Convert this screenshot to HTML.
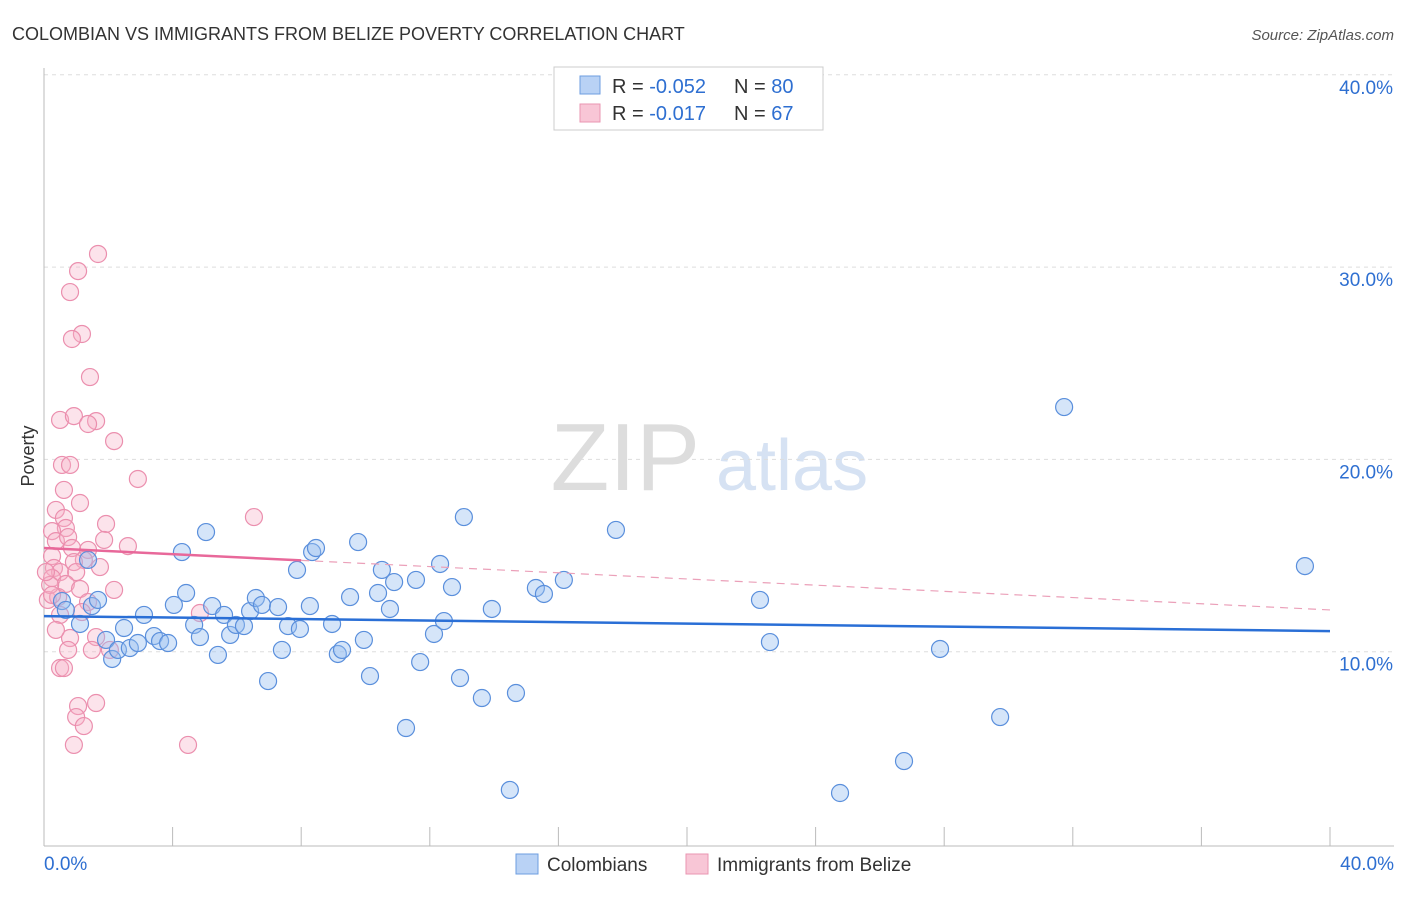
<!DOCTYPE html>
<html><head><meta charset="utf-8"><style>
body{margin:0;background:#fff;font-family:"Liberation Sans",sans-serif}
svg text{font-family:"Liberation Sans",sans-serif}
</style></head><body>
<svg id="chart" width="1406" height="892" viewBox="0 0 1406 892">
<text x="12" y="40" font-size="18" fill="#333">COLOMBIAN VS IMMIGRANTS FROM BELIZE POVERTY CORRELATION CHART</text>
<text x="1394" y="40" font-size="15" fill="#555" text-anchor="end" font-style="italic">Source: ZipAtlas.com</text>
<text x="700" y="490" font-size="96" fill="#ddd" text-anchor="end" font-family="Liberation Serif">ZIP</text>
<text x="716" y="490" font-size="72" fill="#d6e2f3">atlas</text>
<g id="grid"></g>
<g id="axes"></g>
<g id="pts"></g>
<g id="trend"></g>
<g>
<rect x="554" y="67" width="269" height="63" fill="#fff" stroke="#ccc"/>
<rect x="580" y="76" width="20" height="18" fill="#b9d2f5" stroke="#6d9ee0"/>
<rect x="580" y="104" width="20" height="18" fill="#f8c6d6" stroke="#ea95b1"/>
<text x="612" y="93" font-size="20" fill="#333">R = <tspan fill="#2e6fd1">-0.052</tspan></text>
<text x="734" y="93" font-size="20" fill="#333">N = <tspan fill="#2e6fd1">80</tspan></text>
<text x="612" y="120" font-size="20" fill="#333">R =  <tspan fill="#2e6fd1">-0.017</tspan></text>
<text x="734" y="120" font-size="20" fill="#333">N =  <tspan fill="#2e6fd1">67</tspan></text>
</g>
<text x="34" y="456" font-size="18" fill="#333" text-anchor="middle" transform="rotate(-90 34 456)">Poverty</text>
<text x="44" y="870" font-size="19" fill="#2e6fd1">0.0%</text>
<text x="1394" y="870" font-size="19" fill="#2e6fd1" text-anchor="end">40.0%</text>
<g>
<rect x="516" y="854" width="22" height="20" fill="#b9d2f5" stroke="#6d9ee0"/>
<text x="547" y="871" font-size="19" fill="#333">Colombians</text>
<rect x="686" y="854" width="22" height="20" fill="#f8c6d6" stroke="#ea95b1"/>
<text x="717" y="871" font-size="19" fill="#333">Immigrants from Belize</text>
</g>
</svg>
<script>
const yTicks=[10,20,30,40];
const yTickLabels=["10.0%","20.0%","30.0%","40.0%"];
const blueX=[0.56,0.68,1.12,1.37,1.49,1.68,1.93,2.12,2.30,2.49,2.67,2.92,3.11,3.42,3.61,3.86,4.04,4.29,4.42,4.67,4.85,5.04,5.23,5.41,5.60,5.79,5.97,6.22,6.41,6.59,6.78,6.97,7.28,7.40,7.59,7.87,7.96,8.27,8.34,8.46,8.96,9.14,9.27,9.52,9.77,9.95,10.14,10.39,10.51,10.76,10.89,11.26,11.57,11.70,12.13,12.32,12.44,12.69,12.94,13.06,13.62,13.93,14.49,14.68,15.30,15.55,16.17,17.79,22.27,22.58,24.76,26.75,27.87,29.74,31.73,39.22];
const blueY=[12.84,12.38,11.65,14.98,12.58,12.90,10.82,9.83,10.30,11.44,10.40,10.66,12.12,11.02,10.76,10.66,12.64,15.39,13.26,11.60,10.97,16.43,12.58,10.04,12.12,11.08,11.60,11.54,12.32,13.00,12.64,8.68,12.53,10.30,11.54,14.46,11.39,12.58,15.39,15.60,11.65,10.09,10.30,13.05,15.91,10.82,8.94,13.26,14.46,12.43,13.83,6.24,13.94,9.67,11.13,14.77,11.80,13.57,8.84,17.21,7.80,12.43,3.02,8.06,13.52,13.21,13.94,16.54,12.90,10.71,2.86,4.52,10.35,6.81,22.93,14.66];
const pinkX=[1.68,1.06,0.81,1.18,0.87,1.43,0.50,0.93,1.62,1.37,2.18,0.56,0.81,2.92,0.62,1.12,6.53,0.37,0.62,0.68,1.93,0.25,0.37,0.75,1.87,2.61,0.87,1.37,0.25,1.24,0.93,1.74,0.31,0.50,0.25,1.00,2.18,0.68,1.12,0.12,0.44,1.37,4.85,0.50,1.18,1.62,0.81,2.05,1.49,0.75,0.50,0.62,1.06,1.62,1.00,1.24,0.93,4.48,0.19,0.06,0.37,0.25];
const pinkY=[30.89,30.00,28.91,26.73,26.47,24.49,22.26,22.46,22.20,22.05,21.16,19.92,19.92,19.19,18.62,17.94,17.21,17.58,17.16,16.64,16.85,16.48,15.96,16.17,16.02,15.70,15.60,15.50,15.18,14.98,14.87,14.61,14.56,14.35,14.04,14.35,13.42,13.73,13.47,12.90,13.05,12.79,12.22,12.12,12.27,10.97,10.92,10.30,10.30,10.30,9.36,9.36,7.38,7.54,6.81,6.34,5.36,5.36,13.68,14.35,11.34,13.16];
const blueTrend=[12.06,11.28];
const pinkTrend=[15.60,12.38];
const pinkSolidEnd=8;
const xMaxVal=40;

const X=v=>44+v*32.15, Y=v=>848-v*19.23;
const NS="http://www.w3.org/2000/svg";
function mk(tag,attrs,parent){const e=document.createElementNS(NS,tag);for(const k in attrs)e.setAttribute(k,attrs[k]);parent.appendChild(e);return e;}
const grid=document.getElementById('grid'),axes=document.getElementById('axes'),pts=document.getElementById('pts'),tr=document.getElementById('trend');
yTicks.forEach((t,i)=>{
 const l=mk('line',{x1:44,x2:1394,y1:Y(t)-4,y2:Y(t)-4,stroke:'#ddd','stroke-dasharray':'4,4'},grid);
 
 
 const tx=mk('text',{x:1393,y:Y(t)+15,'font-size':19,fill:'#2e6fd1','text-anchor':'end'},grid);
 tx.textContent=yTickLabels[i];
 
 
});
const ya=mk('line',{x1:44,x2:44,y1:68,y2:846,stroke:'#bbb'},axes);


const xa=mk('line',{x1:44,x2:1394,y1:846,y2:846,stroke:'#bbb'},axes);


for(let i=1;i<=10;i++){
 const tk=mk('line',{x1:X(i*4),x2:X(i*4),y1:827,y2:846,stroke:'#bbb'},axes);
 
 
}
pinkX.forEach((x,i)=>{
 const c=mk('circle',{cx:X(x),cy:Y(pinkY[i]),r:8.5,fill:'rgba(246,175,198,0.35)',stroke:'#eb8fae','stroke-width':1.2},pts);
 
 
});
blueX.forEach((x,i)=>{
 const c=mk('circle',{cx:X(x),cy:Y(blueY[i]),r:8.5,fill:'rgba(150,190,240,0.4)',stroke:'#5a8fdc','stroke-width':1.2},pts);
 
 
});
const bl=mk('line',{x1:X(0),y1:Y(blueTrend[0]),x2:X(xMaxVal),y2:Y(blueTrend[1]),stroke:'#2a6fd6','stroke-width':2.5},tr);


const pe=pinkTrend[0]+(pinkTrend[1]-pinkTrend[0])*pinkSolidEnd/xMaxVal;
const ps=mk('line',{x1:X(0),y1:Y(pinkTrend[0]),x2:X(pinkSolidEnd),y2:Y(pe),stroke:'#e8689a','stroke-width':2.5},tr);


const pd=mk('line',{x1:X(pinkSolidEnd),y1:Y(pe),x2:X(xMaxVal),y2:Y(pinkTrend[1]),stroke:'#eba0b9','stroke-width':1.2,'stroke-dasharray':'8,6'},tr);


</script>
</body></html>
